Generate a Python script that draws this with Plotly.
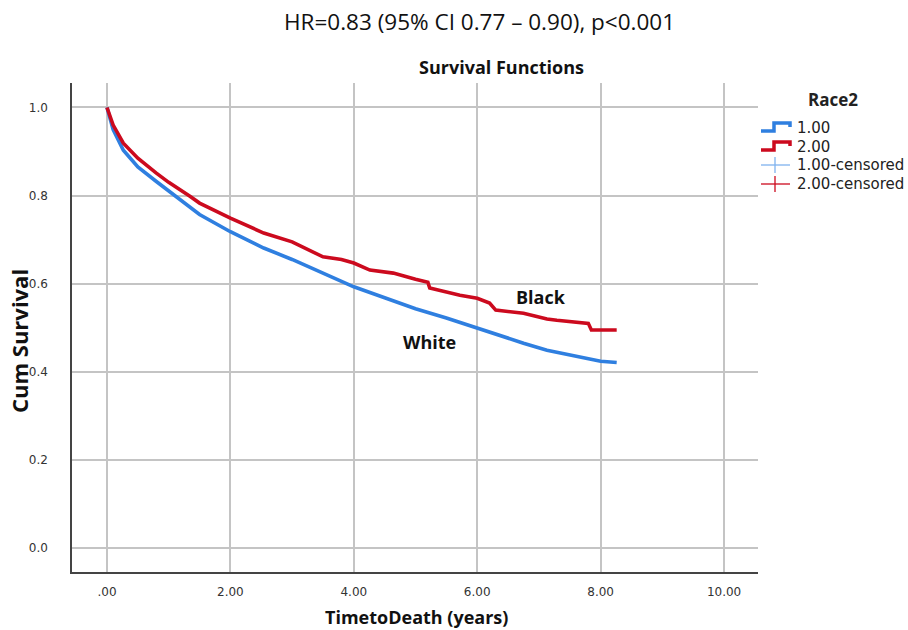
import plotly.graph_objects as go

# ---- data ----
white_t = [0, 0.1, 0.265, 0.5, 0.8, 1.0, 1.35, 1.5, 2.0, 2.54, 3.0, 3.5, 4.0, 4.5, 5.0, 5.5, 6.0, 6.4, 6.75, 7.13, 7.5, 7.83, 8.0, 8.26]
white_s = [1.0, 0.95, 0.903, 0.865, 0.832, 0.81, 0.772, 0.757, 0.718, 0.681, 0.655, 0.624, 0.593, 0.568, 0.543, 0.522, 0.499, 0.480, 0.465, 0.449, 0.438, 0.428, 0.424, 0.421]

black_t = [0, 0.1, 0.265, 0.5, 0.8, 1.0, 1.35, 1.5, 2.0, 2.54, 3.0, 3.5, 3.8, 4.0, 4.26, 4.64, 5.0, 5.2, 5.23, 5.72, 6.0, 6.2, 6.3, 6.75, 7.13, 7.29, 7.8, 7.85, 8.26]
black_s = [1.0, 0.96, 0.919, 0.885, 0.851, 0.83, 0.798, 0.783, 0.749, 0.715, 0.695, 0.661, 0.655, 0.647, 0.631, 0.624, 0.61, 0.603, 0.59, 0.574, 0.567, 0.556, 0.54, 0.533, 0.52, 0.517, 0.51, 0.495, 0.495]

x_ticks = [0, 2, 4, 6, 8, 10]
x_ticktext = [".00", "2.00", "4.00", "6.00", "8.00", "10.00"]
y_ticks = [0.0, 0.2, 0.4, 0.6, 0.8, 1.0]
y_ticktext = ["0.0", "0.2", "0.4", "0.6", "0.8", "1.0"]

legend_title = "Race2"
legend_labels = ["1.00", "2.00", "1.00-censored", "2.00-censored"]

BLUE = "#2F7FE0"
RED = "#CC0A1E"
LBLUE = "#7FB2EE"

W, H = 908, 630
# plot area in pixels
L, R, T, B = 72, 758, 83, 572
PW, PH = R - L, B - T


def px(xs):
    return (xs - L) / PW


def py(ys):
    return (B - ys) / PH


fig = go.Figure()
fig.add_trace(go.Scatter(x=white_t, y=white_s, mode="lines", line=dict(color=BLUE, width=3.6),
                         name=legend_labels[0], showlegend=False))
fig.add_trace(go.Scatter(x=black_t, y=black_s, mode="lines", line=dict(color=RED, width=3.6),
                         name=legend_labels[1], showlegend=False))

fig.update_layout(
    width=W, height=H,
    margin=dict(l=L, r=W - R, t=T, b=H - B, autoexpand=False),
    paper_bgcolor="white", plot_bgcolor="white",
    font=dict(family="Open Sans", color="#222"),
    showlegend=False,
    xaxis=dict(range=[-0.567, 10.55], tickvals=x_ticks, ticktext=x_ticktext, automargin=False,
               showgrid=True, gridcolor="#c4c4c4", gridwidth=1.6, zeroline=False,
               showline=True, linecolor="#444", linewidth=1.5,
               tickfont=dict(size=12, color="#333", family="DejaVu Sans"), ticks="", ticklabelstandoff=8),
    yaxis=dict(range=[-0.0545, 1.0556], tickvals=y_ticks, ticktext=y_ticktext, automargin=False,
               showgrid=True, gridcolor="#c4c4c4", gridwidth=1.6, zeroline=False,
               showline=True, linecolor="#444", linewidth=1.5,
               tickfont=dict(size=12, color="#333", family="DejaVu Sans"), ticks="", ticklabelstandoff=20),
)

# ---- titles / labels ----
fig.add_annotation(text="HR=0.83 (95% CI 0.77 \u2013 0.90), p<0.001", xref="paper", yref="paper",
                   x=px(479), y=py(22), showarrow=False, font=dict(size=22.5, color="#111"),
                   xanchor="center", yanchor="middle")
fig.add_annotation(text="<b>Survival Functions</b>", xref="paper", yref="paper",
                   x=px(501), y=py(67), showarrow=False, font=dict(size=18, color="#111"),
                   xanchor="center", yanchor="middle")
fig.add_annotation(text="<b>Cum Survival</b>", xref="paper", yref="paper",
                   x=px(19), y=py(341), textangle=-90, showarrow=False,
                   font=dict(size=22, color="#111"), xanchor="center", yanchor="middle")
fig.add_annotation(text="<b>TimetoDeath (years)</b>", xref="paper", yref="paper",
                   x=px(416), y=py(617), showarrow=False,
                   font=dict(size=18, color="#111"), xanchor="center", yanchor="middle")
fig.add_annotation(text="<b>Black</b>", x=7.03, y=0.570, showarrow=False,
                   font=dict(size=18, color="#111"), xanchor="center", yanchor="middle")
fig.add_annotation(text="<b>White</b>", x=5.22, y=0.468, showarrow=False,
                   font=dict(size=18, color="#111"), xanchor="center", yanchor="middle")

# ---- legend drawn by hand (SPSS style) ----
fig.add_annotation(text="<b>" + legend_title + "</b>", xref="paper", yref="paper",
                   x=px(833), y=py(99), showarrow=False, font=dict(size=17, color="#222"),
                   xanchor="center", yanchor="middle")
row_y = [128, 147, 165, 184]
for lab, yy in zip(legend_labels, row_y):
    fig.add_annotation(text=lab, xref="paper", yref="paper", x=px(795), y=py(yy), showarrow=False,
                       font=dict(size=15, color="#222", family="DejaVu Sans"),
                       xanchor="left", yanchor="middle")


def step_icon(yc, color):
    pts = [(761, yc + 3), (774, yc + 3), (774, yc - 5), (790, yc - 5), (790, yc - 1)]
    path = "M " + " L ".join(f"{px(a):.5f},{py(b):.5f}" for a, b in pts)
    fig.add_shape(type="path", path=path, xref="paper", yref="paper",
                  line=dict(color=color, width=3.5))


def cross_icon(yc, color):
    fig.add_shape(type="line", xref="paper", yref="paper", x0=px(761), x1=px(790), y0=py(yc), y1=py(yc),
                  line=dict(color=color, width=1.3))
    fig.add_shape(type="line", xref="paper", yref="paper", x0=px(775), x1=px(775), y0=py(yc - 8), y1=py(yc + 8),
                  line=dict(color=color, width=1.3))


step_icon(row_y[0], BLUE)
step_icon(row_y[1], RED)
cross_icon(row_y[2], LBLUE)
cross_icon(row_y[3], RED)

fig.write_html("out.html", config={"displayModeBar": False},
               post_script="document.body.style.margin='0';document.body.style.padding='0';")
